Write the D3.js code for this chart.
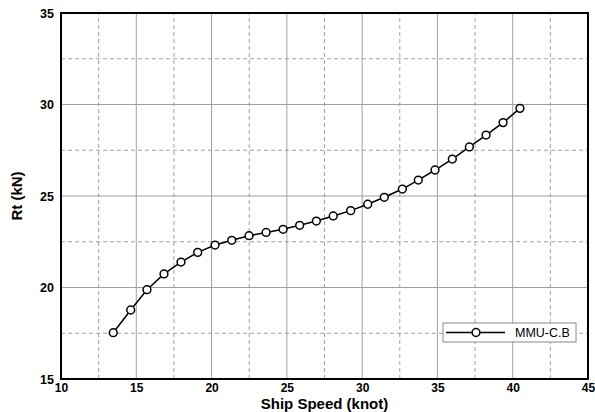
<!DOCTYPE html>
<html>
<head>
<meta charset="utf-8">
<script src="https://cdn.jsdelivr.net/npm/d3@7"></script>
<style>
  html, body { margin: 0; padding: 0; background: #fff; }
  svg { display: block; font-family: "Liberation Sans", Arial, sans-serif; }
</style>
</head>
<body>
<svg id="chart" width="595" height="412"></svg>
<script>
// Total resistance vs. ship speed, series MMU-C.B
const seriesName = "MMU-C.B";
const speed = [13.47, 14.63, 15.71, 16.84, 17.97, 19.08, 20.23, 21.34, 22.49, 23.62,
               24.75, 25.85, 26.96, 28.08, 29.24, 30.37, 31.47, 32.67, 33.73, 34.84,
               35.99, 37.12, 38.23, 39.36, 40.48];
const rt = [17.53, 18.77, 19.88, 20.74, 21.39, 21.92, 22.32, 22.58, 22.83, 23.01,
            23.18, 23.40, 23.63, 23.91, 24.20, 24.55, 24.93, 25.38, 25.87, 26.42,
            27.02, 27.68, 28.33, 29.01, 29.79];
const xTicks = [10, 15, 20, 25, 30, 35, 40, 45];
const yTicks = [15, 20, 25, 30, 35];
const xMinor = [12.5, 17.5, 22.5, 27.5, 32.5, 37.5, 42.5];
const yMinor = [17.5, 22.5, 27.5, 32.5];

const svg = d3.select("#chart");
const m = { left: 61, right: 7, top: 13, bottom: 33 };
const W = 595, H = 412;
const x = d3.scaleLinear().domain([10, 45]).range([m.left, W - m.right]);
const y = d3.scaleLinear().domain([15, 35]).range([H - m.bottom, m.top]);

const grid = svg.append("g");
// major grid (solid)
grid.selectAll(".vx").data(xTicks.slice(1, -1)).join("line")
  .attr("x1", d => x(d)).attr("x2", d => x(d))
  .attr("y1", y(15)).attr("y2", y(35))
  .attr("stroke", "#a0a0a0").attr("stroke-width", 1);
grid.selectAll(".hy").data(yTicks.slice(1, -1)).join("line")
  .attr("y1", d => y(d)).attr("y2", d => y(d))
  .attr("x1", x(10)).attr("x2", x(45))
  .attr("stroke", "#a0a0a0").attr("stroke-width", 1);
// minor grid (dashed)
grid.selectAll(".vxm").data(xMinor).join("line")
  .attr("x1", d => x(d)).attr("x2", d => x(d))
  .attr("y1", y(15)).attr("y2", y(35))
  .attr("stroke", "#8a8a8a").attr("stroke-width", 0.8).attr("stroke-dasharray", "4,3");
grid.selectAll(".hym").data(yMinor).join("line")
  .attr("y1", d => y(d)).attr("y2", d => y(d))
  .attr("x1", x(10)).attr("x2", x(45))
  .attr("stroke", "#8a8a8a").attr("stroke-width", 0.8).attr("stroke-dasharray", "4,3");

// frame
svg.append("rect")
  .attr("x", x(10)).attr("y", y(35))
  .attr("width", x(45) - x(10)).attr("height", y(15) - y(35))
  .attr("fill", "none").attr("stroke", "#000").attr("stroke-width", 2);

// axes tick labels
const xAxis = d3.axisBottom(x).tickValues(xTicks).tickSize(0).tickPadding(4.5);
const gx = svg.append("g").attr("transform", `translate(0,${y(15)})`).call(xAxis);
gx.select(".domain").remove();
gx.selectAll("text").attr("font-size", 12).attr("font-weight", "bold")
  .attr("font-family", "'Liberation Sans', Arial, sans-serif").attr("fill", "#000");

const yAxis = d3.axisLeft(y).tickValues(yTicks).tickSize(0).tickPadding(7);
const gy = svg.append("g").attr("transform", `translate(${x(10)},0)`).call(yAxis);
gy.select(".domain").remove();
gy.selectAll("text").attr("font-size", 12.5).attr("font-weight", "bold")
  .attr("font-family", "'Liberation Sans', Arial, sans-serif").attr("fill", "#000");

// axis titles
svg.append("text").attr("x", (x(10) + x(45)) / 2).attr("y", 408.5)
  .attr("text-anchor", "middle").attr("font-size", 15).attr("font-weight", "bold")
  .text("Ship Speed (knot)");
svg.append("text").attr("transform", `translate(22,${(y(15) + y(35)) / 2}) rotate(-90)`)
  .attr("text-anchor", "middle").attr("font-size", 15).attr("font-weight", "bold")
  .text("Rt (kN)");

// series
const data = speed.map((s, i) => ({ s, r: rt[i] }));
svg.append("path").datum(data)
  .attr("d", d3.line().x(d => x(d.s)).y(d => y(d.r)))
  .attr("fill", "none").attr("stroke", "#000").attr("stroke-width", 1.5);
svg.selectAll(".pt").data(data).join("circle")
  .attr("cx", d => x(d.s)).attr("cy", d => y(d.r)).attr("r", 3.9)
  .attr("fill", "#fff").attr("stroke", "#000").attr("stroke-width", 1.5);

// legend
const lg = svg.append("g").attr("transform", "translate(443,323)");
lg.append("rect").attr("width", 133).attr("height", 19)
  .attr("fill", "#fff").attr("stroke", "#888").attr("stroke-width", 1);
lg.append("line").attr("x1", 3).attr("x2", 62).attr("y1", 9.5).attr("y2", 9.5)
  .attr("stroke", "#000").attr("stroke-width", 1.5);
lg.append("circle").attr("cx", 33).attr("cy", 9.5).attr("r", 3.9)
  .attr("fill", "#fff").attr("stroke", "#000").attr("stroke-width", 1.5);
lg.append("text").attr("x", 72).attr("y", 14).attr("font-size", 12.5).text(seriesName);
</script>
</body>
</html>
